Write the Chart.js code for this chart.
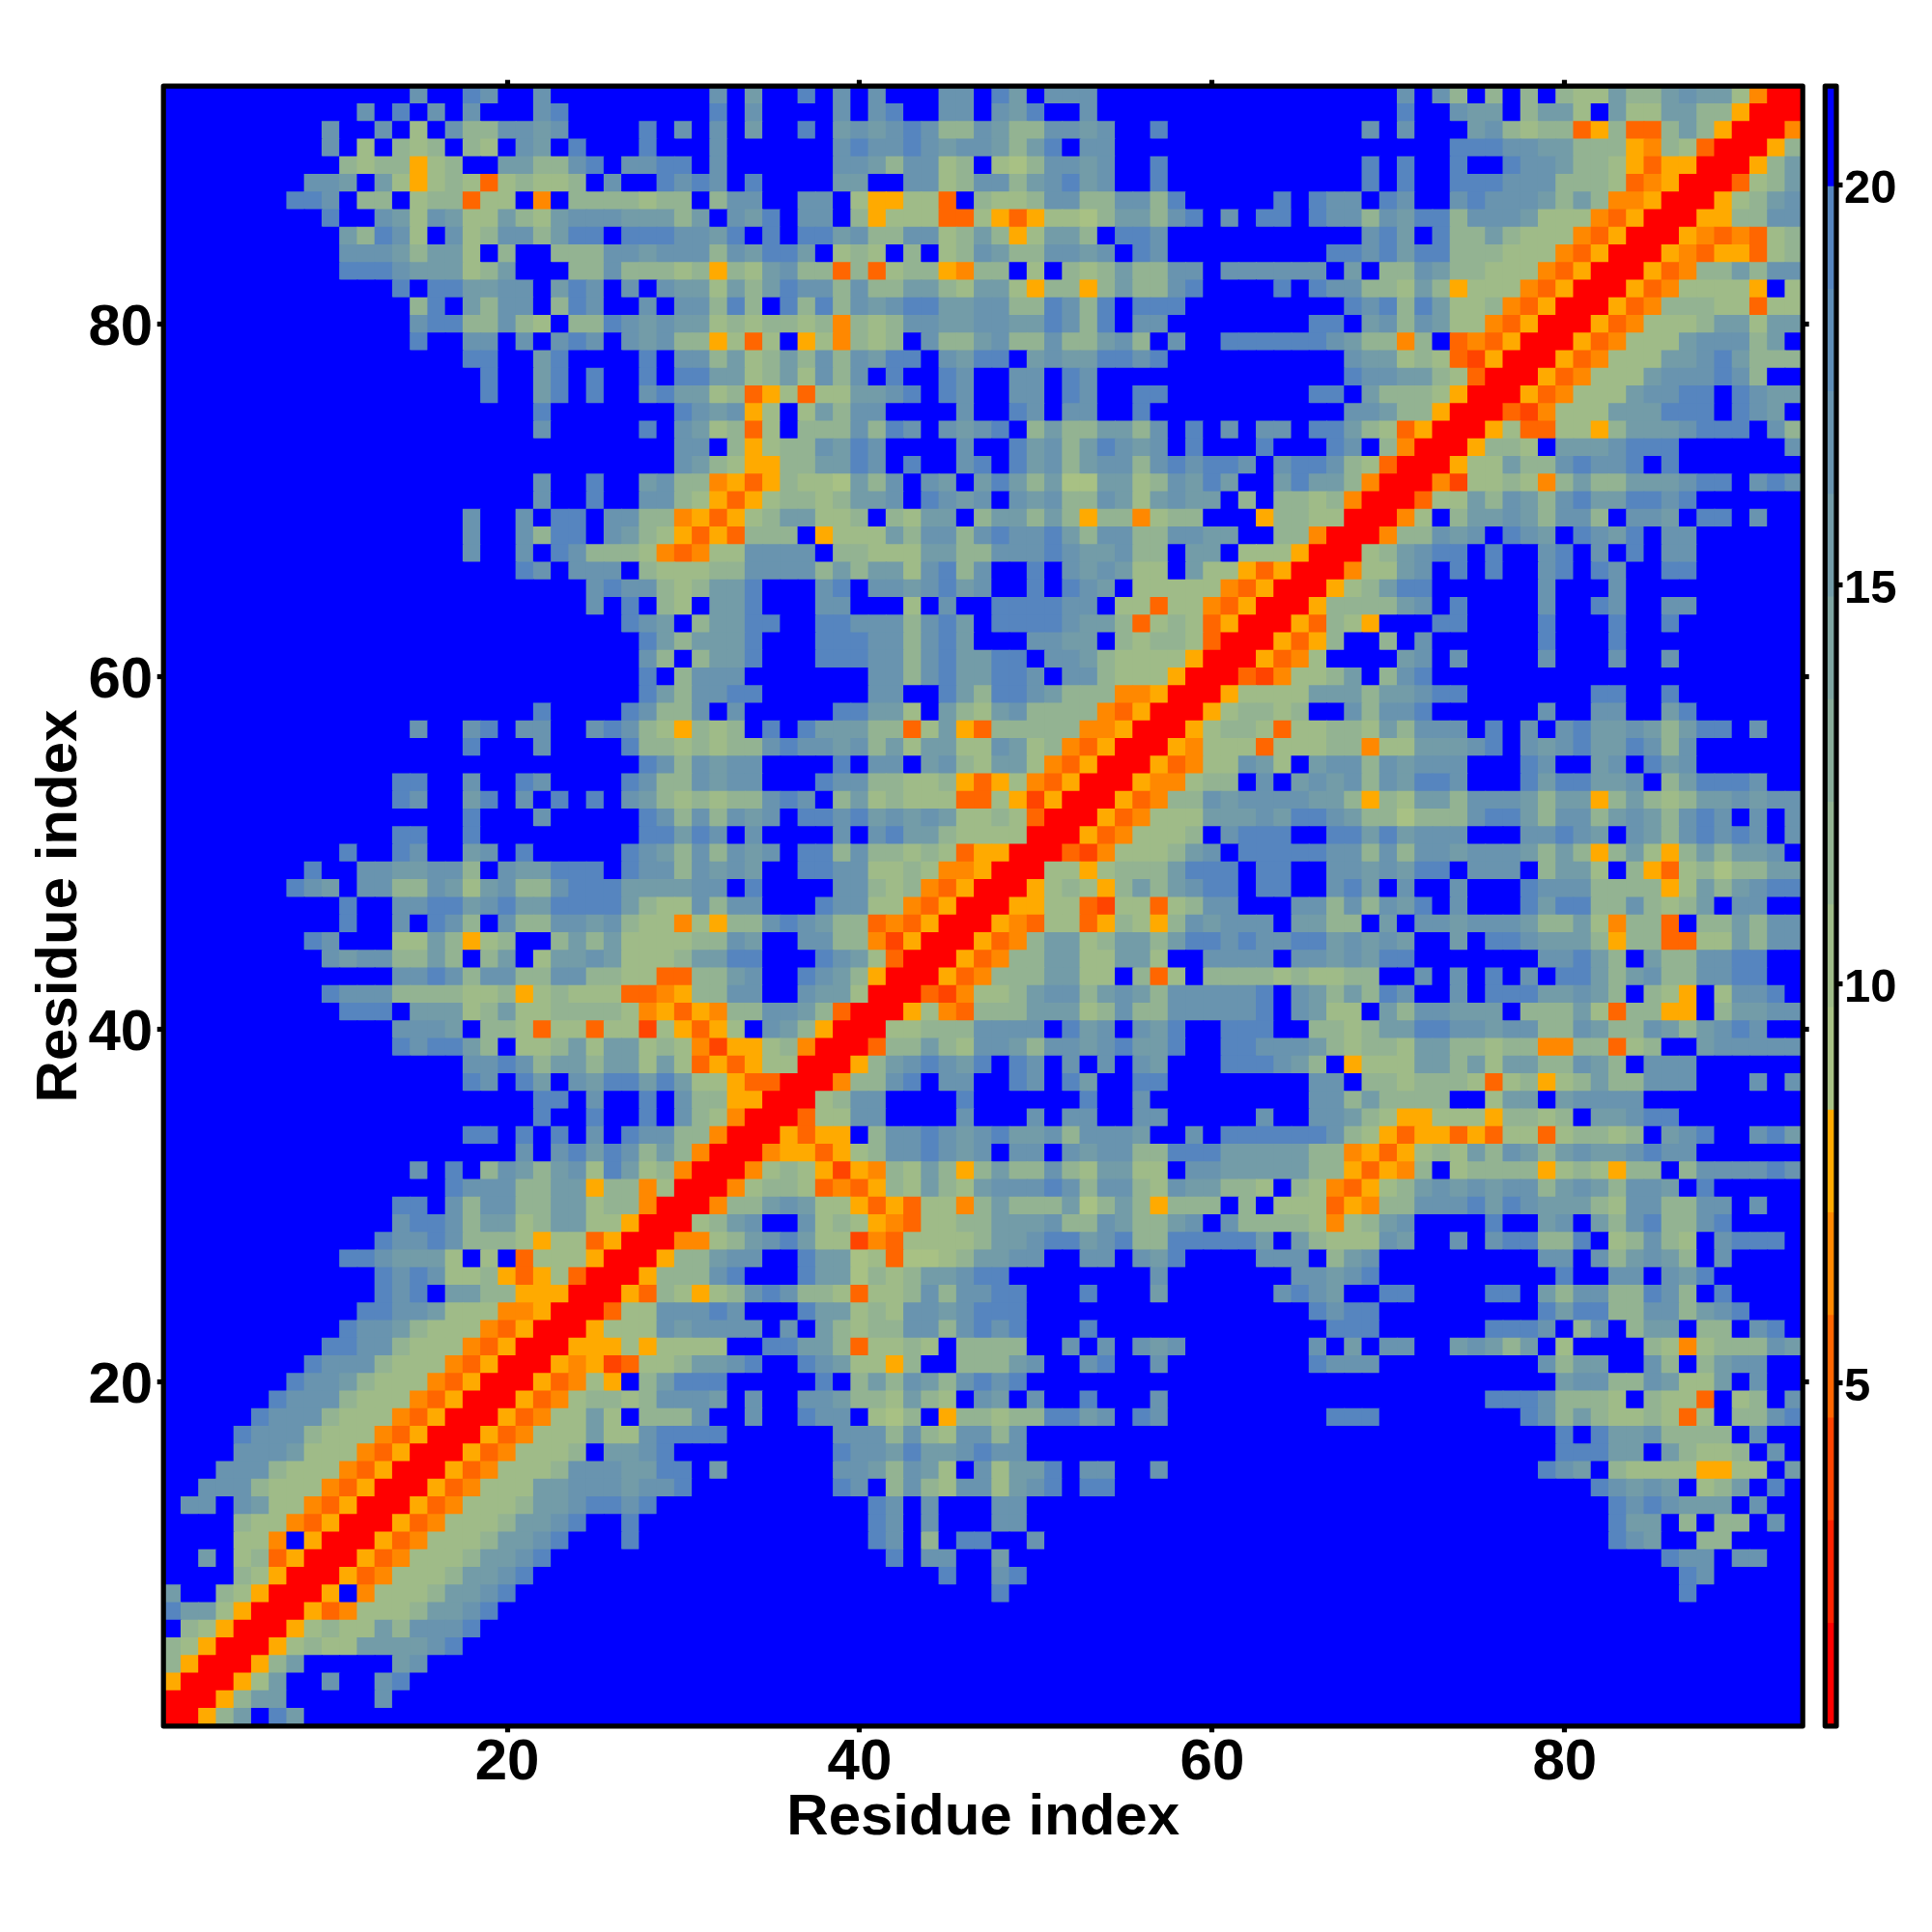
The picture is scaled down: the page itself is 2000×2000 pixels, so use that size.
<!DOCTYPE html>
<html>
<head>
<meta charset="utf-8">
<style>
html,body{margin:0;padding:0;background:#fff;}
canvas{position:absolute;left:0;top:0;}
</style>
<script src="https://cdn.jsdelivr.net/npm/chart.js@4"></script>
</head>
<body>
<canvas id="map" width="2000" height="2000"></canvas>
<canvas id="bar" width="2000" height="2000"></canvas>
<script>
const residueCount = 93;
const axisTicks = [20, 40, 60, 80];
const colorbarTicks = [5, 10, 15, 20];
const axisTitle = "Residue index";

// distance value for each reading code; cells not listed are the blue (>20) class
const levelCodes  = ["0","1","2","3","4","5","a","b","c","d","r"];
const levelValues = [19.2,17,15,12.2,10.5,9,7.8,6.5,5.2,3.9,1.4];
const blueValue = 20.6;

// colour classes of the colour key, bottom to top
const bandBase = 0.71, bandStep = 1.285;
const bandColors = ["#ff0000","#ff2200","#ff4400","#ff6600","#ff8800","#ffaa00",
  "#a8c184","#9fbb88","#93b392","#88ab99","#7ea4a1","#739ca8","#6994af","#5e8db7","#5685bf","#0000ff"];

// rows top (residue 93) to bottom (residue 1): "startColumn:codes", '.' = blue cell
const cellRows = [
"15:1 18:01 22:1 32:1 34:2 37:0 39:1 41:1 45:11 48:02 51:111 71:1 73:13 76:3 78:3 80:34423321224brr",
"12:1 14:0 16:1 18:1 22:10 32:0 34:1 39:1 41:10 45:11 48:120 53:1 71:0 74:122 78:3224 83:2442233arrr",
"10:1 13:1 15:4 17:1331121 28:0 30:1 32:1 34:2 37:0 39:2121013312331121 57:0 69:1 71:1 75:213433ca3cc323arrrb",
"10:1 12:4 14:343 18:34 21:12 24:0 28:0 32:1 39:1011012112320 53:11 74:0001122333ab34crrra3",
"11:3433a43 20:223310 27:1100 32:1 39:11231143 48:4531121 57:0 69:0 71:0 74:0 77:0112334acaarrra32",
"9:112 13:24a434c43443 26:1 29:0101 34:0 39:22 43:114311321021 57:0 69:0 71:0 74:000 77:1113334cbarrrc432",
"8:001 12:33 15:433c44 22:b 24:3333433 32:311 37:11 40:4aa44c 47:344311331130 64:0 66:011 70:01 74:101112323bbarrra4321",
"10:0 13:1241244234211122232 33:120 37:11 40:3a444cc4aca445322310 61:1 63:00 66:0113120031112444bcarrraa3311",
"11:23014 17:143113200 27:0001120 35:0 37:002133114323a4223 55:001 69:102 73:03323444bcarrrabcbc43",
"11:11123224 20:3 23:333112111312002 39:434 43:3 45:4312331121 56:01 67:0010200333444bcarrrabcaac43",
"11:0001222432 24:33133343a342133c3c433ab33 50:4 52:34323311 61:111111 68:2 70:331233444bcarrracb332311",
"14:0 16:002211 23:201 27:1 29:122423201131332234224a33a323310 64:0 66:01133423a444bcarrracb4444a.4",
"15:30 18:2311 23:301 28:1 30:11303 36:0303121002211330130 56:000 68:010302443bcarrracb33344c44",
"15:10033134 24:330121224343343b343112211220130 56:11 66:00 69:2131244bcarrracb444322422",
"15:0 18:11 21:1 23:101 27:12133a4c4 37:a4b343 44:1332133133213 58:1 61:0000001233b3.cbcarrracb444211132",
"18:00 22:20 28:0 30:11324323131200 45:1200 50:21220010 68:122434cdarrracb44422102333",
"19:0 22:20 25:0 28:0 30:00224324131 42:0 45:01 49:11 52:01 68:0112234crrracb4442111013",
"19:0 22:20 25:0 28:102243ca4c442210 45:01 49:11 52:01 56:00 66:00 69:23334arrracb44421100.0122",
"22:0 30:0121a4 37:42311 46:1 49:01 52:11 56:0 68:11233arrrcdb444222000.012",
"22:1 28:0 30:1243c4 37:3331301 45:1210 50:32332231 59:0 61:1 63:11 66:00234carrra4cc44a32221000.13",
"30:11 33:3a4331201 46:1 49:021320121 59:0 63:0 67:01 70:3brrra334.2221000 93:1",
"30:1234aa332201 43:0 46:10 49:02132113101001 64:100134crrra4423310110.0",
"22:1 25:0 28:2133baca3445231 44:12 47:202325522431202 64:20223brrrbd4434b3233222100 91:101",
"22:1 25:0 28:1134aca43343221 44:0121 49:121331242122 62:3 64:3343brrrc442312310220010",
"18:1 21:1 23:00 26:1133baca4322443 42:3422 47:322323a33b433 63:a3344rrrb4.322123113.112.00.1",
"18:1 21:1300 26:1234acac333 38:a44423113101102311331122 64:33brrrb33121.012.0120.11",
"18:1 21:1 23:013334bcb441111 39:3344422331110122133 59:22 62:444arrr432100 76:0 79:10 82:1 84:0 86:11",
"21:01 24:111 28:34443311113232241031 50:0 52:121244 59:244acarrrb4421 74:0 76:0 79:10 82:01 86:00",
"25:1011343220 38:10 41:1121021 50:0 52:012 56:44444bcarrra43200 79:1 83:1",
"25:1 27:0 29:34 32:220 38:11 43:4 45:1 48:000011 55:44c44bcarrra333321 74:0 79:1 82:01 86:11",
"27:012 31:32200 38:001113102 48:00001223c434carrrac34a 73:00 79:0 83:0 86:0",
"28:0232220 38:000113102 50:1122 55:34334crrraca3 70:3 72:1 79:0 83:0",
"28:13.3220 38:000113102200 51:11234444arrracb4 71:21 74:1 79:1 83:1 86:1",
"28:0 30:3111 41:1131022001 52:113444arrrcdb4432 70:310",
"28:0231100 41:11 45:0230012333bbarrra4444222322100 82:00 86:0",
"22:0 27:01331 33:1 39:00224 45:234213333bcarrra43343 68:13110 79:1 82:11 86:20",
"15:1 18:10 21:11 25:10134a343 35:0 37:022233c42ac33333bbarrra4334c4433423111 76:0 78:1 80:1022123200 91:1",
"18:0 22:1 27:0334343310112132422441243bcarrrab444c44433b4422210 78:1210220131",
"28:0131211 39:0 41:11 44:2134224bcarrracb44124 66:211312111 78:01 82:21 85:021",
"14:00 18:1 21:01 27:01331211 38:01133443aca4bcarrrabb433 63:1 65:2121312001 78:0200221 86:320001",
"14:01 18:20 21:1 23:0 25:0 27:12343433101 39:3243444cc4adarrracb33121111223a342231112322a32343221211",
"18:0 22:1 28:01313121 37:0010212124434crrracb444222120012335333100231132123101.1.1",
"14:00 18:0 28:00201 34:1 39:1 41:102234444rrracb4443 61:1000 67:00202111 78:11012.12310101.1",
"11:0 14:01 18:21 21:0 27:012313121 37:003133434caarrrcdb444321 62:00000113131121112323a324a323221",
"9:0 12:1122113 20:122000 27:01131212 37:00114434bbarrr44a43332000 63:00 67:1121200 75:111 79:3224 84:3ac4353322",
"8:012 12:113312421331000222211 34:0 39:11343bcarrra434a3232100 63:00 67:102 71:1 74:1 78:01113333a4232100",
"11:0 14:110021022000023441311 38:01144bcarrraa44cd44c4311 65:11313120 74:1 78:02003313432 90:11",
"11:0 14:1 16:013 20:1331121344b4a33101233cbcarrrabc44ca34a312111 65:2233 70:2 72:11211123324b33c.332311",
"9:01 14:4423a43 23:323244443312 37:1133bdarrracb3224322320010110021212 74:2 76:0012223a33cc442311",
"10:12113323.32.4221244432200 38:0124crrracb332244224 60:1111.1121200 79:11023.2331100",
"14:110131133113344cc3321 37:0123arrracb3332244.3c4.3333434433 72:1 74:1 76:0 78:1 80:002321331100",
"10:01113333443a43444ccba3311 37:1224rrrcdb44321132123111110.1232301 74:1 76:00022123.34a.4110",
"11:000 15:2224324433334bacab331123crrra4bc33322243133111110.1244.2311222.33324c33aa.32211",
"14:1112.334c44c44d4aca4.123arrr443331111.021.120 61:000 66:33432200112113312331232101",
"14:010023.4432422434bdaa43brrrc33234112311210220 61:001112343342233433bb33c43 88:211111",
"18:1101322322424caca44rrra3210120.01.1.1.12 61:000123.a444223242233123.111",
"18:01 21:02 24:120020244accrrrb3310.11 49:01 52:02 56:00 66:11 69:3343334c43a43233111 91:1 93:1",
"22:00 25:1 28:0 30:133aarrr4311 46:0 53:0 56:1 66:11323333 76:422 80:21111",
"22:0 25:0 28:0 30:134brrrc4411 46:1 50:1 52:11 56:11 63:1 66:11234aa444a3343.22100",
"18:00 21:0 23:0 25:1 27:01133brrracaa.3110121022131112 59:1 61:000000134acaacac44c43343.210 91:102",
"21:1 23:10201323brrrbaaca43110121.11.1211330002222233baca4342312321221011",
"15:1 17:0 19:31232140243brrrb434adab3423a32331342244.112222233acab3.43333a434a33.3111101",
"17:01113322a33b4rrrb4334cbca3423421110131134122334.34bca43212121132123112 88:0",
"14:00 17:13113322433brrrb3321244acac44b3233325323a333.3.444cab33111020122234113311.1",
"14:1001322432244arrr4321 37:1434abc4433222133123321.133334b4321 76:0 79:21 82:23103310",
"13:011013334a44carrrbb43210244dbc444432210021033000002.2344412 74:1 76:100330 83:43134 89:1000",
"11:0012224.4.c444arrra33211 37:02254c55432211 53:11 56:120 63:111 67:321 79:11 82:132123 89:1",
"13:0101443aca4crrra33310 37:022534322100 57:1 65:11210 80:0 83:11 86:120",
"13:010.2233aaarrrac34a43101334c443131100 53:0 57:2 64:1012 70:00 76:00 79:231133013 89:0",
"12:00112444bbarrrc4411101 37:0224341121000 66:0100 79:020033113210",
"11:01123444bcarrra444121111 36:1 38:234331131010 53:0 67:000 76:0001 81:31 84:322 88:33 91:10",
"10:00113444bcarrraaa4a4444 35:00223c4434 46:3333 52:1 54:1 56:121 66:1 68:2 70:11 74:21232 80:4 85:34b433312",
"9:01113444bcarrrabadc4432210 37:01244a3 46:33321 53:10 57:1 66:0111 79:1322 85:13 88:3211",
"8:01123444bcarrracb4a.32000 38:0 40:3231231010 80:2113312442 91:1",
"7:01113444bcarrracb433431112 34:1 37:112334234 47:12 50:1 53:0 57:1 76:00013334 85:344c 90:43 93:1",
"6:01113444bcarrracb4424.3331 34:1 37:011 41:453 45:a334330021 56:01 67:000 78:013234434c4 90:3310",
"5:01113444bcarrracb44424410000 39:11131341131 80:0 82:02213333 91:1",
"5:1112444bcarrracb4443.2210 39:01120221011 80:00022.23443.1",
"4:1113444bcarrracb44431112200.2 39:1123124.14220 53:11 57:1 79:012.34444aa44.2",
"3:1113444bcarrracb444221112110 39:01.3134114210 53:00 82:01212.432.0",
"2:11 5:1244bcarrracb44432210010 41:01 44:1 48:11 83:0101222.1",
"5:344bcarrracb44432210 27:0 41:01 44:1 48:11 83:022 87:3 89:33 92:1",
"5:44b.arrracb44432210 27:0 41:01 44:3 46:00 50:1 83:012 88:33",
"3:2 5:43carrracb44432210 42:0 44:11 48:2 86:011 90:11",
"5:34arrracb44432210 45:0 48:10 87:01",
"1:2 4:34arrra.b44432210 48:0 87:0",
"1:0224arrracb44432210",
"2:34arrra4344231110",
"1:34arrra4344222210",
"1:3arrra32 14:21",
"1:arrra42 10:1 13:10",
"1:rrra322 13:1",
"1:rra32.02"
];

function colorFor(v){
  const k = Math.min(bandColors.length-1, Math.max(0, Math.floor((v-bandBase)/bandStep)));
  return bandColors[k];
}

const cells = [];
cellRows.forEach((row, idx) => {
  const y = residueCount - idx;
  const vals = new Array(residueCount + 1).fill(blueValue);
  row.trim().split(/\s+/).forEach(seg => {
    const [start, codes] = seg.split(":");
    [...codes].forEach((c, i) => {
      const col = Number(start) + i;
      const lv = levelCodes.indexOf(c);
      if (lv >= 0 && col <= residueCount) vals[col] = levelValues[lv];
    });
  });
  for (let x = 1; x <= residueCount; x++) cells.push({x, y, v: vals[x]});
});

const AREA = {left:169.2, right:1866.2, top:89.2, bottom:1786.8};
const KEY  = {left:1889.3, right:1901.0};
const LINE = 5.2;
const FONT = "'Liberation Sans', Arial, sans-serif";

const frame = {
  id:'frame',
  afterDraw(chart){
    const a = chart.chartArea, c = chart.ctx;
    c.save();
    c.lineWidth = LINE; c.strokeStyle = '#000'; c.lineJoin = 'round';
    c.strokeRect(a.left, a.top, a.right-a.left, a.bottom-a.top);
    c.restore();
  }
};
const setTicks = list => s => { s.ticks = list.map(value => ({value})); };
const tickGrid = {display:true, drawOnChartArea:false, drawTicks:true, tickLength:6.5, tickWidth:LINE, tickColor:'#000'};
const residueAxis = (pos, size, extra) => Object.assign({
  type:'linear', position:pos, min:0.5, max:residueCount+0.5,
  afterBuildTicks:setTicks(axisTicks),
  afterFit:s => { if (pos==='left'||pos==='right') s.width=size; else s.height=size; },
  border:{display:false}, grid:tickGrid,
  ticks:{display:false}
}, extra||{});

Chart.defaults.font.family = FONT;
new Chart(document.getElementById('map'), {
  type:'scatter',
  data:{datasets:[{
    data:cells,
    pointStyle:'rect',
    pointRadius:((AREA.right-AREA.left)/residueCount+1)*0.7071,
    pointBorderWidth:0,
    pointBackgroundColor:ctx => colorFor(ctx.raw.v),
    pointHoverRadius:0,
    xAxisID:'x', yAxisID:'y'
  }]},
  options:{
    responsive:false, animation:false, devicePixelRatio:1, events:[],
    layout:{padding:0},
    plugins:{legend:{display:false}, tooltip:{enabled:false}},
    scales:{
      x:residueAxis('bottom',2000-AREA.bottom,{
        ticks:{display:true, autoSkip:false, maxRotation:0, padding:-3.5, color:'#000',
               font:{size:60, weight:'bold', family:FONT}},
        title:{display:true, text:axisTitle, color:'#000', font:{size:60, weight:'bold', family:FONT, lineHeight:1.2}, padding:{top:0,bottom:82}}
      }),
      y:residueAxis('left',AREA.left,{
        ticks:{display:true, autoSkip:false, maxRotation:0, labelOffset:4.5, padding:4.5, color:'#000',
               font:{size:60, weight:'bold', family:FONT}},
        title:{display:true, text:axisTitle, color:'#000', font:{size:60, weight:'bold', family:FONT, lineHeight:1.2}, padding:{top:26.5,bottom:0}}
      }),
      x2:residueAxis('top',AREA.top),
      y2:residueAxis('right',2000-AREA.right)
    }
  },
  plugins:[frame]
});

new Chart(document.getElementById('bar'), {
  type:'bar',
  data:{
    labels:['key'],
    datasets:bandColors.map((color,k)=>({
      data:[[bandBase+k*bandStep, bandBase+(k+1)*bandStep]],
      backgroundColor:color, borderWidth:0, barPercentage:1, categoryPercentage:1
    }))
  },
  options:{
    responsive:false, animation:false, devicePixelRatio:1, events:[],
    layout:{padding:{left:KEY.left, top:AREA.top, bottom:2000-AREA.bottom, right:0}},
    plugins:{legend:{display:false}, tooltip:{enabled:false}},
    scales:{
      x:{stacked:true, display:false},
      y:{
        position:'right', type:'linear', min:0.708, max:21.24,
        afterBuildTicks:setTicks(colorbarTicks),
        afterFit:s => { s.width = 2000-KEY.right; },
        border:{display:false}, grid:tickGrid,
        ticks:{autoSkip:false, maxRotation:0, labelOffset:5, padding:1.5, color:'#000',
               font:{size:49, weight:'bold', family:FONT}}
      }
    }
  },
  plugins:[frame]
});
</script>
</body>
</html>
